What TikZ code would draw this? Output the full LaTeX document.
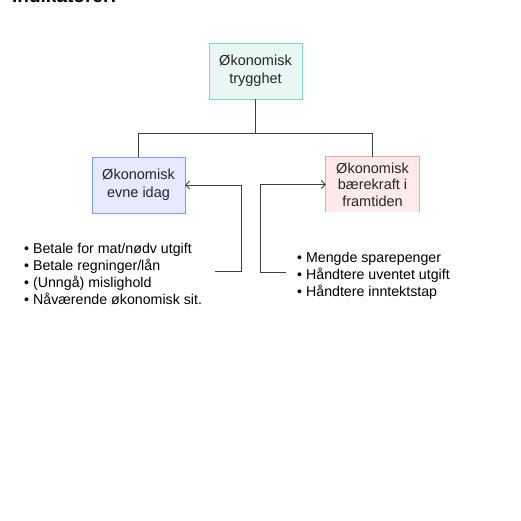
\documentclass[tikz,border=0pt]{standalone}
\usepackage{fontspec}
\setmainfont{Liberation Sans}
\usetikzlibrary{arrows.meta, positioning, calc}
\definecolor{TopFill}{HTML}{E8F7F3}
\definecolor{TopLine}{HTML}{80D9C7}
\definecolor{NowFill}{HTML}{E6E9FF}
\definecolor{NowLine}{HTML}{809EF7}
\definecolor{FutFill}{HTML}{FFE9E9}
\definecolor{FutLine}{HTML}{FFA3A3}
\definecolor{LinkGray}{HTML}{404040}

\begin{document}
\begin{tikzpicture}[
    x=1pt, y=-1pt,
    catbox/.style={
      rectangle, minimum width=93pt, minimum height=56pt, align=center,
      inner sep=0pt, text=black!85, font=\fontsize{14.5}{17.8}\selectfont
    },
    bullets/.style={
      anchor=north west, align=left, inner sep=0pt,
      font=\fontsize{14.2}{17}\selectfont
    },
    arr/.style={-{Straight Barb[length=4pt, width=8pt]}, line width=0.9pt, draw=LinkGray},
    link/.style={line width=0.9pt, draw=LinkGray}
  ]
    \useasboundingbox (0,0) rectangle (521,520);

    \node[anchor=base west, inner sep=0pt, font=\fontsize{19}{22}\selectfont\bfseries] (title) at (12,2.5) {Indikatorer:};

    \node[catbox, fill=TopFill, draw=TopLine] (top) at (255.5,71) {Økonomisk\\trygghet};
    \node[catbox, fill=NowFill, draw=NowLine] (now) at (138.5,185) {Økonomisk\\evne idag};
    \node[catbox, fill=FutFill, minimum height=55pt, font=\fontsize{14.5}{16.5}\selectfont] (fut) at (372.5,184.5) {Økonomisk\\bærekraft i\\framtiden};
    % open bottom edge
    \draw[FutLine, line width=0.9pt] (fut.south west) -- (fut.north west) -- (fut.north east) -- (fut.south east);

    \coordinate (bus) at (255.5,133);
    \draw[link] (top.south) -- (bus);
    \draw[link] (now.north) -- (now.north |- bus) -- (fut.north |- bus) -- (fut.north);

    \node[bullets] (nowlist) at (24,243.5) {• Betale for mat/nødv utgift\\• Betale regninger/lån\\• (Unngå) mislighold\\• Nåværende økonomisk sit.};
    \node[bullets] (futlist) at (297,252) {• Mengde sparepenger\\• Håndtere uventet utgift\\• Håndtere inntektstap};

    \coordinate (nowsrc) at (215,271);
    \coordinate (futsrc) at (286,272);
    \draw[arr] (nowsrc) -- ++(26,0) |- (now.east);
    \draw[arr] (futsrc) -- ++(-26,0) |- (fut.west);
  \end{tikzpicture}
\end{document}
